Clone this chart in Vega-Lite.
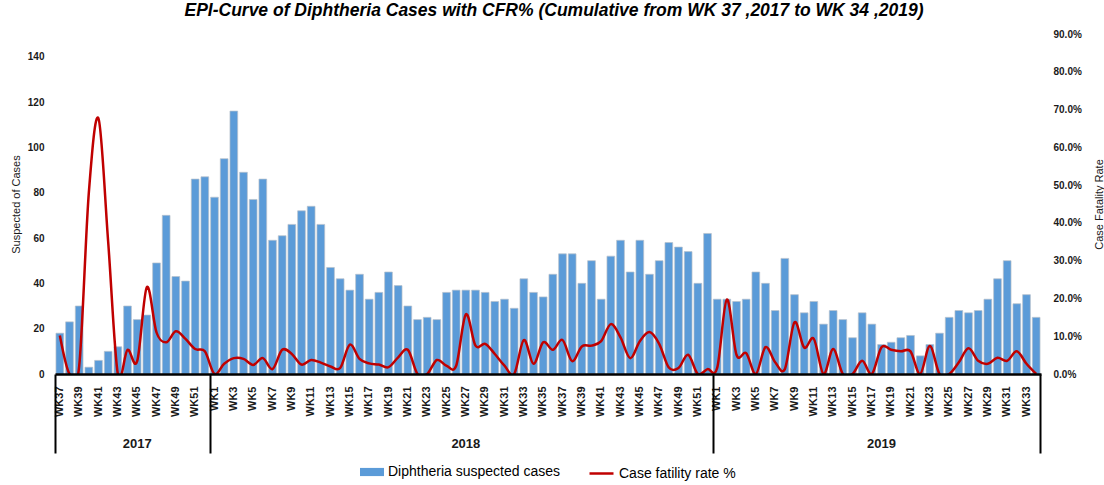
{
  "$schema": "https://vega.github.io/schema/vega-lite/v6.json",
  "width": 986,
  "height": 340,
  "autosize": {"type": "none"},
  "padding": {"left": 55, "top": 34, "right": 63, "bottom": 111},
  "background": "white",
  "config": {
    "view": {"stroke": null},
    "font": "Liberation Sans",
    "legend": {"layout": {"bottom": {"anchor": "middle", "direction": "horizontal", "margin": 28}}}
  },
  "title": {
    "text": "EPI-Curve  of  Diphtheria Cases with CFR% (Cumulative from WK 37 ,2017 to WK 34 ,2019)",
    "font": "Liberation Sans",
    "fontSize": 17.5,
    "fontStyle": "italic",
    "fontWeight": "bold",
    "color": "#000000",
    "anchor": "middle",
    "offset": 10,
    "dx": 6
  },
  "data": {
    "values": [
      {"key": "2017 WK37", "cases": 18, "cfr": 0.102},
      {"key": "2017 WK38", "cases": 23, "cfr": 0.0},
      {"key": "2017 WK39", "cases": 30, "cfr": 0.02},
      {"key": "2017 WK40", "cases": 3, "cfr": 0.48},
      {"key": "2017 WK41", "cases": 6, "cfr": 0.676},
      {"key": "2017 WK42", "cases": 10, "cfr": 0.35},
      {"key": "2017 WK43", "cases": 12, "cfr": 0.0},
      {"key": "2017 WK44", "cases": 30, "cfr": 0.064},
      {"key": "2017 WK45", "cases": 24, "cfr": 0.034},
      {"key": "2017 WK46", "cases": 26, "cfr": 0.23},
      {"key": "2017 WK47", "cases": 49, "cfr": 0.11},
      {"key": "2017 WK48", "cases": 70, "cfr": 0.084},
      {"key": "2017 WK49", "cases": 43, "cfr": 0.113},
      {"key": "2017 WK50", "cases": 41, "cfr": 0.093},
      {"key": "2017 WK51", "cases": 86, "cfr": 0.066},
      {"key": "2017 WK52", "cases": 87, "cfr": 0.06},
      {"key": "2018 WK1", "cases": 78, "cfr": 0.0},
      {"key": "2018 WK2", "cases": 95, "cfr": 0.027},
      {"key": "2018 WK3", "cases": 116, "cfr": 0.042},
      {"key": "2018 WK4", "cases": 89, "cfr": 0.04},
      {"key": "2018 WK5", "cases": 77, "cfr": 0.024},
      {"key": "2018 WK6", "cases": 86, "cfr": 0.042},
      {"key": "2018 WK7", "cases": 59, "cfr": 0.013},
      {"key": "2018 WK8", "cases": 61, "cfr": 0.064},
      {"key": "2018 WK9", "cases": 66, "cfr": 0.053},
      {"key": "2018 WK10", "cases": 72, "cfr": 0.025},
      {"key": "2018 WK11", "cases": 74, "cfr": 0.037},
      {"key": "2018 WK12", "cases": 66, "cfr": 0.03},
      {"key": "2018 WK13", "cases": 47, "cfr": 0.02},
      {"key": "2018 WK14", "cases": 42, "cfr": 0.016},
      {"key": "2018 WK15", "cases": 37, "cfr": 0.078},
      {"key": "2018 WK16", "cases": 44, "cfr": 0.04},
      {"key": "2018 WK17", "cases": 33, "cfr": 0.028},
      {"key": "2018 WK18", "cases": 36, "cfr": 0.025},
      {"key": "2018 WK19", "cases": 45, "cfr": 0.018},
      {"key": "2018 WK20", "cases": 39, "cfr": 0.044},
      {"key": "2018 WK21", "cases": 30, "cfr": 0.064},
      {"key": "2018 WK22", "cases": 24, "cfr": 0.0},
      {"key": "2018 WK23", "cases": 25, "cfr": 0.0},
      {"key": "2018 WK24", "cases": 24, "cfr": 0.037},
      {"key": "2018 WK25", "cases": 36, "cfr": 0.022},
      {"key": "2018 WK26", "cases": 37, "cfr": 0.022},
      {"key": "2018 WK27", "cases": 37, "cfr": 0.158},
      {"key": "2018 WK28", "cases": 37, "cfr": 0.075},
      {"key": "2018 WK29", "cases": 36, "cfr": 0.08},
      {"key": "2018 WK30", "cases": 32, "cfr": 0.053},
      {"key": "2018 WK31", "cases": 33, "cfr": 0.022},
      {"key": "2018 WK32", "cases": 29, "cfr": 0.0},
      {"key": "2018 WK33", "cases": 42, "cfr": 0.09},
      {"key": "2018 WK34", "cases": 36, "cfr": 0.027},
      {"key": "2018 WK35", "cases": 34, "cfr": 0.084},
      {"key": "2018 WK36", "cases": 44, "cfr": 0.064},
      {"key": "2018 WK37", "cases": 53, "cfr": 0.09},
      {"key": "2018 WK38", "cases": 53, "cfr": 0.034},
      {"key": "2018 WK39", "cases": 40, "cfr": 0.073},
      {"key": "2018 WK40", "cases": 50, "cfr": 0.075},
      {"key": "2018 WK41", "cases": 33, "cfr": 0.087},
      {"key": "2018 WK42", "cases": 52, "cfr": 0.132},
      {"key": "2018 WK43", "cases": 59, "cfr": 0.097},
      {"key": "2018 WK44", "cases": 45, "cfr": 0.042},
      {"key": "2018 WK45", "cases": 59, "cfr": 0.087},
      {"key": "2018 WK46", "cases": 44, "cfr": 0.111},
      {"key": "2018 WK47", "cases": 50, "cfr": 0.08},
      {"key": "2018 WK48", "cases": 58, "cfr": 0.017},
      {"key": "2018 WK49", "cases": 56, "cfr": 0.016},
      {"key": "2018 WK50", "cases": 54, "cfr": 0.051},
      {"key": "2018 WK51", "cases": 40, "cfr": 0.0},
      {"key": "2018 WK52", "cases": 62, "cfr": 0.013},
      {"key": "2019 WK1", "cases": 33, "cfr": 0.016},
      {"key": "2019 WK2", "cases": 33, "cfr": 0.197},
      {"key": "2019 WK3", "cases": 32, "cfr": 0.051},
      {"key": "2019 WK4", "cases": 33, "cfr": 0.055},
      {"key": "2019 WK5", "cases": 45, "cfr": 0.0},
      {"key": "2019 WK6", "cases": 40, "cfr": 0.071},
      {"key": "2019 WK7", "cases": 28, "cfr": 0.031},
      {"key": "2019 WK8", "cases": 51, "cfr": 0.013},
      {"key": "2019 WK9", "cases": 35, "cfr": 0.137},
      {"key": "2019 WK10", "cases": 27, "cfr": 0.07},
      {"key": "2019 WK11", "cases": 32, "cfr": 0.093},
      {"key": "2019 WK12", "cases": 22, "cfr": 0.0},
      {"key": "2019 WK13", "cases": 28, "cfr": 0.066},
      {"key": "2019 WK14", "cases": 24, "cfr": 0.0},
      {"key": "2019 WK15", "cases": 16, "cfr": 0.0},
      {"key": "2019 WK16", "cases": 27, "cfr": 0.035},
      {"key": "2019 WK17", "cases": 22, "cfr": 0.0},
      {"key": "2019 WK18", "cases": 13, "cfr": 0.071},
      {"key": "2019 WK19", "cases": 14, "cfr": 0.064},
      {"key": "2019 WK20", "cases": 16, "cfr": 0.06},
      {"key": "2019 WK21", "cases": 17, "cfr": 0.06},
      {"key": "2019 WK22", "cases": 8, "cfr": 0.0},
      {"key": "2019 WK23", "cases": 13, "cfr": 0.074},
      {"key": "2019 WK24", "cases": 18, "cfr": 0.0},
      {"key": "2019 WK25", "cases": 25, "cfr": 0.0},
      {"key": "2019 WK26", "cases": 28, "cfr": 0.031},
      {"key": "2019 WK27", "cases": 27, "cfr": 0.068},
      {"key": "2019 WK28", "cases": 28, "cfr": 0.035},
      {"key": "2019 WK29", "cases": 33, "cfr": 0.027},
      {"key": "2019 WK30", "cases": 42, "cfr": 0.043},
      {"key": "2019 WK31", "cases": 50, "cfr": 0.035},
      {"key": "2019 WK32", "cases": 31, "cfr": 0.06},
      {"key": "2019 WK33", "cases": 35, "cfr": 0.027},
      {"key": "2019 WK34", "cases": 25, "cfr": 0.0}
    ]
  },
  "layer": [
    {
      "mark": {"type": "bar", "stroke": "#b8c2cc", "strokeWidth": 0.7},
      "encoding": {
        "x": {
          "field": "key", "type": "nominal", "sort": null,
          "scale": {"paddingInner": 0.2, "paddingOuter": 0.1},
          "axis": {
            "orient": "bottom", "title": null,
            "domain": true, "domainColor": "#000000", "domainWidth": 2.5,
            "ticks": false, "tickSize": 0,
            "labelAngle": 270, "labelPadding": 12,
            "labelFont": "Liberation Sans", "labelFontSize": 11, "labelFontWeight": "bold", "labelColor": "#1a1a1a",
            "labelOverlap": false, "labelBound": false,
            "labelExpr": "toNumber(substring(datum.value, 7)) % 2 == 1 ? substring(datum.value, 5) : ''",
            "zindex": 2
          }
        },
        "y": {
          "field": "cases", "type": "quantitative",
          "scale": {"domain": [0, 150], "nice": false},
          "axis": {
            "orient": "left", "title": "Suspected of Cases",
            "values": [0, 20, 40, 60, 80, 100, 120, 140],
            "grid": false, "domain": false, "ticks": false,
            "labelFontSize": 10, "labelFontWeight": "bold", "labelColor": "#1a1a1a", "labelPadding": 11,
            "titleFontSize": 11, "titleFontWeight": "normal", "titleColor": "#1a1a1a", "titlePadding": 6
          }
        },
        "fill": {
          "datum": "Diphtheria suspected cases",
          "type": "nominal",
          "scale": {"range": ["#5b9bd8"]},
          "legend": {
            "orient": "bottom", "title": null, "offset": 6,
            "symbolType": "M-1,-0.34H1V0.34H-1Z", "symbolSize": 576, "symbolStrokeWidth": 0,
            "labelFont": "Liberation Sans", "labelFontSize": 14, "labelColor": "#000000", "labelLimit": 400
          }
        }
      }
    },
    {
      "mark": {"type": "line", "interpolate": "cardinal", "strokeWidth": 2.5, "clip": true},
      "encoding": {
        "x": {
          "field": "key", "type": "nominal", "sort": null,
          "axis": {
            "orient": "bottom", "title": null, "domain": false,
            "bandPosition": 0,
            "values": ["2017 WK37", "2017 WK45", "2018 WK1", "2018 WK27", "2019 WK1", "2019 WK18"],
            "tickSize": 79, "tickWidth": 2, "tickColor": "#000000",
            "tickOpacity": {"condition": {"test": "datum.value == '2017 WK37' || datum.value == '2018 WK1' || datum.value == '2019 WK1'", "value": 1}, "value": 0},
            "labelExpr": "datum.value == '2017 WK45' ? '2017' : datum.value == '2018 WK27' ? '2018' : datum.value == '2019 WK18' ? '2019' : ''",
            "labelAngle": 0, "labelAlign": "center", "labelBaseline": "top", "labelPadding": -16,
            "labelFont": "Liberation Sans", "labelFontSize": 13, "labelFontWeight": "bold", "labelColor": "#1a1a1a",
            "labelOverlap": false, "labelBound": false, "zindex": 2
          }
        },
        "y": {
          "field": "cfr", "type": "quantitative",
          "scale": {"domain": [0, 0.9], "nice": false},
          "axis": {
            "orient": "right", "title": "Case Fatality Rate", "format": ".1%",
            "values": [0, 0.1, 0.2, 0.3, 0.4, 0.5, 0.6, 0.7, 0.8, 0.9],
            "grid": false, "domain": false, "ticks": false,
            "labelFontSize": 10, "labelFontWeight": "bold", "labelColor": "#1a1a1a", "labelPadding": 12,
            "titleFontSize": 11, "titleFontWeight": "normal", "titleColor": "#1a1a1a", "titleAngle": 270, "titlePadding": 23
          }
        },
        "stroke": {
          "datum": "Case fatility rate %",
          "type": "nominal",
          "scale": {"range": ["#c00000"]},
          "legend": {
            "orient": "bottom", "title": null, "offset": 6,
            "symbolType": "stroke", "symbolSize": 576, "symbolStrokeWidth": 2.5,
            "labelFont": "Liberation Sans", "labelFontSize": 14, "labelColor": "#000000", "labelLimit": 400
          }
        }
      }
    },
    {
      "mark": {"type": "rule", "strokeOpacity": 0},
      "encoding": {
        "x": {
          "field": "key", "type": "nominal", "sort": null,
          "axis": {
            "orient": "bottom", "title": null, "domain": false, "labels": false,
            "bandPosition": 1, "values": ["2019 WK34"],
            "tickSize": 79, "tickWidth": 2, "tickColor": "#000000", "zindex": 2
          }
        }
      }
    }
  ],
  "resolve": {
    "scale": {"y": "independent"},
    "axis": {"x": "independent", "y": "independent"}
  }
}
